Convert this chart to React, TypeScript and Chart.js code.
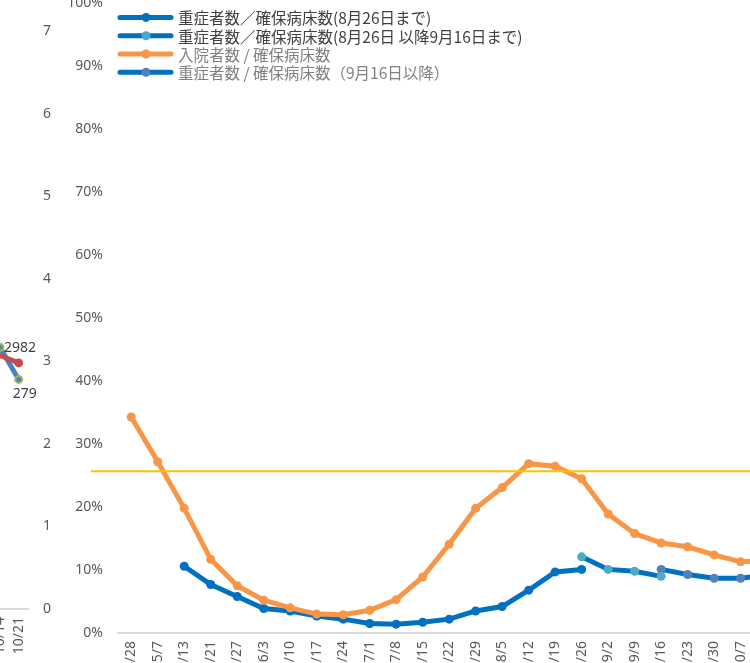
import React, { useEffect, useRef } from "react";
import { Chart, registerables } from "chart.js";

Chart.register(...registerables);

// ---------- main chart data ----------
const categories = [
  "4/28", "5/7", "5/13", "5/21", "5/27", "6/3", "6/10", "6/17", "6/24", "7/1",
  "7/8", "7/15", "7/22", "7/29", "8/5", "8/12", "8/19", "8/26", "9/2", "9/9",
  "9/16", "9/23", "9/30", "10/7", "10/14",
];

const severeUntil826 = [
  null, null, 10.6, 7.7, 5.8, 3.9, 3.5, 2.7, 2.2, 1.5,
  1.4, 1.7, 2.2, 3.5, 4.2, 6.8, 9.7, 10.1, null, null,
  null, null, null, null, null,
];

const severe826to916 = [
  null, null, null, null, null, null, null, null, null, null,
  null, null, null, null, null, null, null, 12.1, 10.1, 9.8,
  9.0, null, null, null, null,
];

const hospitalized = [
  34.3, 27.2, 19.8, 11.7, 7.5, 5.2, 4.0, 3.0, 2.9, 3.6,
  5.3, 8.9, 14.1, 19.8, 23.1, 26.9, 26.5, 24.5, 18.9, 15.8,
  14.3, 13.7, 12.4, 11.3, 11.5,
];

const severeFrom916 = [
  null, null, null, null, null, null, null, null, null, null,
  null, null, null, null, null, null, null, null, null, null,
  10.1, 9.3, 8.7, 8.7, 9.2,
];

const seriesLabels = [
  "重症者数／確保病床数(8月26日まで)",
  "重症者数／確保病床数(8月26日 以降9月16日まで)",
  "入院者数 / 確保病床数",
  "重症者数 / 確保病床数（9月16日以降）",
];

const thresholdValue = [25.7];

// ---------- left (partial) chart data ----------
const leftCategories = ["10/7", "10/14", "10/21"];
const leftRed = [3.17, 3.07, 2.98];
const leftBlue = [3.4, 3.17, 2.78];
const leftBlueLabels = ["", "2982", "279"];

const TICK_FONT = { family: "'Noto Sans', 'Liberation Sans', sans-serif", size: 14 };
const CJK_FONT = "'Noto Sans CJK JP', 'Noto Sans', sans-serif";

const legendPlugin = {
  id: "customLegend",
  afterDraw(chart: any) {
    const ctx = chart.ctx;
    const top = chart.chartArea.top;
    const x0 = chart.chartArea.left;
    const textColors = ["#404040", "#404040", "#808080", "#808080"];
    chart.data.datasets.forEach((ds: any, i: number) => {
      const y = top + 14 + i * 18.3;
      ctx.save();
      ctx.strokeStyle = ds.borderColor;
      ctx.lineWidth = 5;
      ctx.lineCap = "round";
      ctx.beginPath();
      ctx.moveTo(x0 + 2, y);
      ctx.lineTo(x0 + 53, y);
      ctx.stroke();
      ctx.fillStyle = ds.pointBackgroundColor;
      ctx.beginPath();
      ctx.arc(x0 + 28, y, 4.5, 0, Math.PI * 2);
      ctx.fill();
      ctx.fillStyle = textColors[i];
      ctx.font = `15.5px ${CJK_FONT}`;
      ctx.textAlign = "left";
      ctx.textBaseline = "middle";
      ctx.fillText(ds.label, x0 + 60, y + 1);
      ctx.restore();
    });
  },
};

const thresholdPlugin = {
  id: "threshold",
  afterDatasetsDraw(chart: any) {
    const ctx = chart.ctx;
    const y = chart.scales.y.getPixelForValue(thresholdValue[0]);
    ctx.save();
    ctx.strokeStyle = "#FFC000";
    ctx.lineWidth = 2;
    ctx.beginPath();
    ctx.moveTo(chart.chartArea.left - 27, y);
    ctx.lineTo(chart.width, y);
    ctx.stroke();
    ctx.restore();
  },
};

const leftLabelPlugin = {
  id: "leftLabels",
  afterDatasetsDraw(chart: any) {
    const ctx = chart.ctx;
    const meta = chart.getDatasetMeta(1);
    ctx.save();
    ctx.fillStyle = "#404040";
    ctx.font = `14px ${TICK_FONT.family}`;
    ctx.textBaseline = "middle";
    leftBlueLabels.forEach((txt, i) => {
      if (!txt) return;
      const pt = meta.data[i];
      if (i === 1) {
        ctx.textAlign = "left";
        ctx.fillText(txt, pt.x + 4, pt.y + 1);
      } else {
        ctx.textAlign = "center";
        ctx.fillText(txt, pt.x + 6, pt.y + 15);
      }
    });
    ctx.restore();
  },
};

export default function App() {
  const mainRef = useRef<HTMLCanvasElement>(null);
  const leftRef = useRef<HTMLCanvasElement>(null);

  useEffect(() => {
    document.body.style.margin = "0";
    const lineDs = (label: string, data: any[], color: string, pointColor: string, order = 0) => ({
      label,
      data,
      borderColor: color,
      backgroundColor: pointColor,
      pointBackgroundColor: pointColor,
      pointBorderColor: pointColor,
      pointRadius: 4.5,
      pointBorderWidth: 0,
      borderWidth: 5,
      tension: 0,
      spanGaps: false,
      order,
    });

    const main = new Chart(mainRef.current!, {
      type: "line",
      data: {
        labels: categories,
        datasets: [
          lineDs(seriesLabels[0], severeUntil826, "#0070C0", "#0070C0"),
          lineDs(seriesLabels[1], severe826to916, "#0070C0", "#4BACC6"),
          lineDs(seriesLabels[2], hospitalized, "#F79646", "#F79646", -1),
          lineDs(seriesLabels[3], severeFrom916, "#0070C0", "#4F81BD"),
        ],
      },
      options: {
        responsive: false,
        animation: false,
        layout: { padding: { top: 20, left: 0, right: 0, bottom: 0 } },
        plugins: { legend: { display: false }, tooltip: { enabled: false } },
        scales: {
          x: {
            type: "category",
            offset: true,
            grid: { display: false, drawTicks: false },
            border: { display: true, color: "#D9D9D9", width: 2 },
            ticks: {
              autoSkip: false,
              minRotation: 90,
              maxRotation: 90,
              padding: 8,
              color: "#595959",
              font: TICK_FONT,
            },
            afterFit: (s: any) => {
              s.height = 50;
            },
          },
          y: {
            min: 0,
            max: 100,
            grid: { display: false, drawTicks: false },
            border: { display: false },
            ticks: {
              stepSize: 10,
              padding: 15,
              color: "#595959",
              font: TICK_FONT,
              callback: (v: any) => v + "%",
            },
            afterFit: (s: any) => {
              s.width = 118;
            },
          },
        },
      },
      plugins: [thresholdPlugin, legendPlugin],
    });

    const left = new Chart(leftRef.current!, {
      type: "line",
      data: {
        labels: leftCategories,
        datasets: [
          {
            label: "red",
            data: leftRed,
            borderColor: "#C0504D",
            backgroundColor: "#C0504D",
            pointBackgroundColor: "#C0504D",
            pointBorderColor: "#C0504D",
            pointBorderWidth: 0,
            pointRadius: [0, 0, 4.5],
            borderWidth: 5,
            tension: 0,
          },
          {
            label: "blue",
            data: leftBlue,
            borderColor: "#4F81BD",
            backgroundColor: "#4F81BD",
            pointBackgroundColor: "#4F81BD",
            pointBorderColor: "#9BBB59",
            pointBorderWidth: 2,
            pointRadius: 3.5,
            borderWidth: 5,
            tension: 0,
          },
        ],
      },
      options: {
        responsive: false,
        animation: false,
        layout: { padding: { top: 20, left: 0, right: 0, bottom: 0 } },
        plugins: { legend: { display: false }, tooltip: { enabled: false } },
        scales: {
          x: {
            type: "category",
            offset: true,
            grid: { display: false, drawTicks: false },
            border: { display: true, color: "#D9D9D9", width: 2 },
            ticks: {
              autoSkip: false,
              minRotation: 90,
              maxRotation: 90,
              padding: 8,
              color: "#595959",
              font: TICK_FONT,
            },
            afterFit: (s: any) => {
              s.height = 50;
            },
          },
          y: {
            position: "right",
            min: 0,
            max: 8,
            grid: { display: false, drawTicks: false },
            border: { display: false },
            ticks: { stepSize: 1, padding: 15, color: "#595959", font: TICK_FONT },
            afterFit: (s: any) => {
              s.width = 30;
            },
          },
        },
      },
      plugins: [leftLabelPlugin],
    });

    return () => {
      main.destroy();
      left.destroy();
    };
  }, []);

  return (
    <div
      style={{
        position: "fixed",
        left: 0,
        top: 0,
        width: 750,
        height: 663,
        overflow: "hidden",
        background: "#ffffff",
      }}
    >
      <canvas
        ref={leftRef}
        width={92}
        height={734}
        style={{ position: "absolute", left: -34, top: -75 }}
      />
      <canvas
        ref={mainRef}
        width={792}
        height={703}
        style={{ position: "absolute", left: 0, top: -20 }}
      />
    </div>
  );
}
